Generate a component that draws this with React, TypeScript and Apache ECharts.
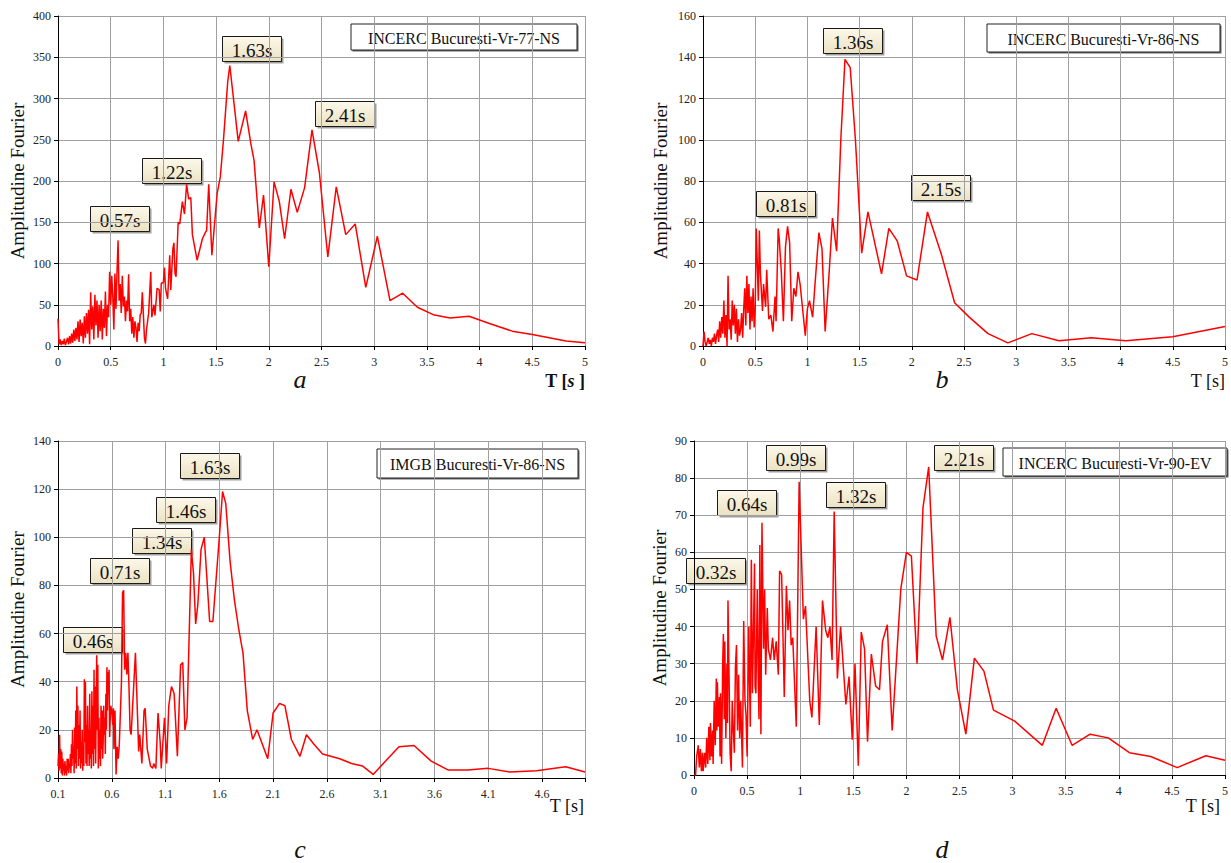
import React, { useEffect, useRef } from 'react';
import * as echarts from 'echarts';

// Fourier amplitude spectra, [period T (s), amplitude]
const spectrumA: [number, number][] = [
  [0.00, 33], [0.01, 2], [0.02, 8], [0.03, 1], [0.04, 6], [0.05, 2], [0.06, 9], [0.07, 1], [0.08, 5], [0.09, 10],
  [0.10, 2], [0.11, 12], [0.12, 3], [0.13, 15], [0.14, 4], [0.15, 20], [0.16, 6], [0.17, 22], [0.18, 8], [0.19, 30],
  [0.20, 5], [0.21, 32], [0.22, 12], [0.23, 28], [0.24, 3], [0.25, 36], [0.26, 10], [0.27, 40], [0.28, 15], [0.29, 44],
  [0.30, 2], [0.31, 65], [0.32, 20], [0.33, 48], [0.34, 8], [0.35, 62], [0.36, 25], [0.37, 55], [0.38, 10], [0.39, 50],
  [0.40, 18], [0.41, 55], [0.42, 8], [0.43, 45], [0.44, 22], [0.45, 66], [0.46, 12], [0.47, 50], [0.48, 35], [0.49, 90],
  [0.50, 50], [0.51, 85], [0.52, 60], [0.53, 20], [0.54, 88], [0.55, 45], [0.56, 90], [0.57, 128], [0.58, 55], [0.59, 75],
  [0.60, 40], [0.61, 85], [0.62, 48], [0.63, 60], [0.64, 30], [0.65, 55], [0.66, 42], [0.67, 87], [0.68, 30], [0.69, 45],
  [0.70, 15], [0.71, 35], [0.72, 10], [0.73, 30], [0.74, 22], [0.75, 5], [0.76, 28], [0.77, 18], [0.78, 38], [0.79, 40],
  [0.80, 65], [0.81, 38], [0.82, 10], [0.83, 3], [0.84, 20], [0.86, 40], [0.88, 90], [0.89, 35], [0.91, 50], [0.92, 37],
  [0.94, 70], [0.96, 68], [0.97, 42], [0.98, 76], [1.00, 77], [1.01, 95], [1.02, 70], [1.04, 57], [1.06, 110], [1.07, 68],
  [1.09, 118], [1.10, 125], [1.11, 88], [1.12, 84], [1.14, 150], [1.155, 148], [1.18, 175], [1.20, 160], [1.22, 196],
  [1.24, 178], [1.26, 180], [1.275, 135], [1.32, 104], [1.37, 130], [1.40, 138], [1.41, 140], [1.43, 196], [1.46, 110],
  [1.51, 185], [1.54, 205], [1.57, 250], [1.61, 320], [1.63, 340], [1.71, 248], [1.78, 285], [1.83, 245], [1.86, 225],
  [1.91, 143], [1.95, 183], [2.00, 96], [2.05, 199], [2.10, 175], [2.15, 130], [2.21, 190], [2.27, 162], [2.34, 192],
  [2.41, 262], [2.48, 210], [2.56, 108], [2.64, 193], [2.73, 135], [2.82, 148], [2.92, 71], [3.03, 133], [3.15, 55],
  [3.27, 64], [3.41, 47], [3.56, 38], [3.72, 34], [3.90, 36], [4.10, 27], [4.31, 18], [4.50, 14], [4.82, 6], [5.00, 4],
];

const spectrumB: [number, number][] = [
  [0.00, 0], [0.01, 7], [0.02, 2], [0.03, 0], [0.04, 2], [0.05, 4], [0.06, 1], [0.07, 3], [0.08, 0], [0.09, 4],
  [0.10, 2], [0.11, 6], [0.12, 1], [0.13, 5], [0.14, 8], [0.15, 2], [0.16, 12], [0.17, 4], [0.18, 14], [0.19, 6],
  [0.20, 22], [0.21, 4], [0.22, 15], [0.23, 0], [0.24, 34], [0.25, 8], [0.26, 13], [0.27, 3], [0.28, 22], [0.29, 10],
  [0.30, 20], [0.31, 6], [0.32, 18], [0.33, 2], [0.34, 13], [0.35, 5], [0.36, 8], [0.37, 16], [0.38, 4], [0.39, 18],
  [0.40, 28], [0.41, 10], [0.42, 34], [0.43, 16], [0.44, 30], [0.45, 8], [0.46, 24], [0.47, 12], [0.48, 28], [0.49, 9],
  [0.50, 18], [0.51, 57], [0.52, 40], [0.53, 22], [0.54, 56], [0.55, 35], [0.57, 17], [0.58, 30], [0.60, 19], [0.61, 37],
  [0.63, 13], [0.65, 15], [0.67, 7], [0.69, 24], [0.70, 12], [0.72, 57], [0.73, 52], [0.75, 36], [0.77, 12], [0.79, 48],
  [0.81, 58], [0.83, 50], [0.85, 12], [0.87, 28], [0.89, 24], [0.91, 36], [0.93, 30], [0.95, 20], [0.98, 5], [1.00, 18],
  [1.02, 22], [1.05, 14], [1.07, 28], [1.11, 55], [1.14, 47], [1.17, 7], [1.21, 37], [1.24, 62], [1.28, 46], [1.32, 100],
  [1.36, 139], [1.41, 135], [1.46, 100], [1.52, 45], [1.58, 65], [1.71, 35], [1.78, 57], [1.86, 51], [1.95, 34],
  [2.05, 32], [2.15, 65], [2.28, 45], [2.41, 21], [2.55, 14], [2.73, 6], [2.92, 1.5], [3.15, 6], [3.41, 2.5],
  [3.72, 4], [4.05, 2.5], [4.50, 4.5], [5.00, 9.5],
];

const spectrumC: [number, number][] = [
  [0.100, 5], [0.105, 10], [0.110, 3], [0.115, 18], [0.120, 4], [0.125, 12], [0.130, 2], [0.135, 11], [0.140, 1],
  [0.145, 8], [0.150, 3], [0.155, 6], [0.160, 1], [0.165, 7], [0.170, 2], [0.175, 5], [0.180, 1], [0.185, 8],
  [0.190, 3], [0.195, 8], [0.200, 2], [0.205, 6], [0.210, 4], [0.215, 10], [0.220, 2], [0.225, 14], [0.230, 5],
  [0.235, 20], [0.240, 8], [0.245, 13], [0.250, 2], [0.255, 21], [0.260, 6], [0.265, 28], [0.270, 4], [0.275, 38],
  [0.280, 12], [0.285, 30], [0.290, 5], [0.295, 22], [0.300, 8], [0.305, 28], [0.310, 4], [0.315, 15], [0.320, 6],
  [0.325, 20], [0.330, 3], [0.335, 12], [0.340, 5], [0.345, 41], [0.350, 15], [0.355, 40], [0.360, 6], [0.365, 22],
  [0.370, 5], [0.375, 30], [0.380, 10], [0.385, 20], [0.390, 5], [0.395, 35], [0.400, 8], [0.405, 20], [0.410, 4],
  [0.415, 36], [0.420, 10], [0.425, 30], [0.430, 5], [0.435, 45], [0.440, 12], [0.445, 38], [0.450, 6], [0.460, 51],
  [0.465, 20], [0.470, 47], [0.475, 4], [0.480, 25], [0.485, 8], [0.490, 20], [0.495, 5], [0.500, 30], [0.505, 12],
  [0.510, 28], [0.515, 8], [0.520, 15], [0.525, 30], [0.530, 18], [0.535, 25], [0.540, 10], [0.545, 35], [0.550, 20],
  [0.555, 46], [0.560, 28], [0.565, 44], [0.570, 35], [0.575, 45], [0.580, 17], [0.590, 30], [0.600, 28], [0.610, 22],
  [0.615, 29], [0.620, 12], [0.630, 28], [0.640, 1.5], [0.650, 13], [0.660, 8], [0.670, 14], [0.690, 40], [0.700, 77],
  [0.710, 78], [0.720, 45], [0.730, 52], [0.740, 43], [0.750, 52], [0.760, 38], [0.770, 20], [0.780, 18], [0.800, 35],
  [0.820, 52], [0.840, 25], [0.850, 11], [0.860, 18], [0.880, 6], [0.900, 28], [0.910, 29], [0.930, 12], [0.960, 5],
  [0.980, 4], [0.990, 6], [1.010, 4], [1.030, 27], [1.050, 15], [1.060, 4], [1.090, 25], [1.110, 6], [1.130, 30],
  [1.155, 38], [1.180, 35], [1.210, 9], [1.240, 47], [1.260, 48], [1.280, 20], [1.300, 25], [1.340, 95], [1.360, 85],
  [1.380, 64], [1.400, 72], [1.430, 95], [1.460, 100], [1.510, 65], [1.540, 65], [1.600, 100], [1.630, 119],
  [1.660, 114], [1.700, 90], [1.740, 74], [1.780, 62], [1.820, 52], [1.860, 28], [1.910, 16], [1.950, 20], [2.050, 8],
  [2.100, 27], [2.160, 31], [2.210, 30], [2.270, 16], [2.350, 9], [2.410, 18], [2.480, 14], [2.560, 10], [2.720, 8],
  [2.830, 6], [2.930, 5], [3.030, 1.5], [3.270, 13], [3.410, 13.5], [3.570, 7], [3.730, 3.3], [3.910, 3.3],
  [4.100, 4], [4.300, 2.5], [4.550, 3], [4.820, 4.7], [5.000, 2.5],
];

const spectrumD: [number, number][] = [
  [0.000, 0], [0.015, 0], [0.025, 5], [0.040, 8], [0.050, 2], [0.060, 7], [0.070, 1], [0.080, 6], [0.086, 1],
  [0.100, 6], [0.110, 2], [0.120, 10], [0.130, 3], [0.140, 13], [0.150, 4], [0.155, 14], [0.166, 5], [0.175, 12],
  [0.180, 3], [0.190, 20], [0.200, 8], [0.210, 26], [0.215, 12], [0.220, 25], [0.230, 13], [0.240, 21], [0.245, 5],
  [0.250, 22], [0.260, 3], [0.270, 30], [0.277, 38], [0.285, 15], [0.290, 36], [0.300, 10], [0.310, 30], [0.315, 14],
  [0.320, 47], [0.335, 16], [0.340, 6], [0.350, 1], [0.360, 20], [0.370, 12], [0.380, 6], [0.390, 29], [0.400, 35],
  [0.410, 12], [0.420, 27], [0.430, 10], [0.440, 20], [0.456, 2], [0.468, 41.5], [0.480, 20], [0.490, 16], [0.500, 5],
  [0.516, 40], [0.530, 13], [0.540, 58], [0.550, 22], [0.558, 35], [0.570, 57], [0.575, 24], [0.583, 22], [0.596, 50],
  [0.605, 26], [0.612, 15], [0.620, 62], [0.630, 11], [0.640, 68], [0.655, 34], [0.665, 50], [0.675, 27], [0.690, 45],
  [0.700, 34], [0.720, 31], [0.740, 37], [0.755, 31], [0.774, 36], [0.794, 27], [0.806, 55], [0.825, 54], [0.850, 21],
  [0.870, 51], [0.885, 39], [0.900, 47], [0.915, 35], [0.930, 37], [0.963, 13], [0.990, 79], [1.030, 42], [1.050, 45.5],
  [1.090, 20], [1.110, 15.5], [1.150, 40], [1.180, 13.5], [1.210, 47], [1.240, 39], [1.260, 37], [1.280, 40],
  [1.300, 31], [1.320, 71], [1.350, 26], [1.380, 40], [1.430, 19], [1.460, 26.5], [1.490, 9.5], [1.516, 30],
  [1.547, 2.5], [1.575, 38.5], [1.606, 34], [1.634, 9], [1.670, 32.6], [1.710, 24], [1.747, 23], [1.775, 36],
  [1.820, 40.5], [1.866, 12], [1.947, 50], [2.000, 60], [2.047, 59], [2.100, 30], [2.156, 72], [2.210, 83],
  [2.280, 37.5], [2.340, 31], [2.410, 42.5], [2.480, 23], [2.560, 11], [2.640, 31.5], [2.730, 28], [2.820, 17.5],
  [2.920, 16], [3.020, 14.5], [3.280, 8], [3.410, 18], [3.560, 8], [3.730, 11], [3.900, 10], [4.100, 6], [4.300, 5],
  [4.550, 2], [4.820, 5.2], [5.000, 4],
];

// Dominant periods (s) marked on each spectrum
const peaksA = [0.57, 1.22, 1.63, 2.41];
const peaksB = [0.81, 1.36, 2.15];
const peaksC = [0.46, 0.71, 1.34, 1.46, 1.63];
const peaksD = [0.32, 0.64, 0.99, 1.32, 2.21];

const stations = [
  'INCERC Bucuresti-Vr-77-NS',
  'INCERC Bucuresti-Vr-86-NS',
  'IMGB Bucuresti-Vr-86-NS',
  'INCERC Bucuresti-Vr-90-EV',
];
const panelLetters = ['a', 'b', 'c', 'd'];
const yAxisTitle = 'Amplitudine Fourier';

const FONT = 'Liberation Serif, serif';

const layouts = [
  {
    data: spectrumA, peaks: peaksA, xMin: 0, xMax: 5, yMax: 400, yStep: 50,
    grid: { left: 58, top: 16, width: 527, height: 330 }, nameGap: 31,
    boxes: [[120, 219], [172, 171], [252, 49], [345, 114]],
    title: [351, 24, 226, 26], tLabel: [585, 381], letter: [300, 379], boldT: true,
  },
  {
    data: spectrumB, peaks: peaksB, xMin: 0, xMax: 5, yMax: 160, yStep: 20,
    grid: { left: 703, top: 16, width: 522, height: 330 }, nameGap: 33,
    boxes: [[786, 204], [853, 41], [941, 188]],
    title: [987, 24, 233, 28], tLabel: [1225, 381], letter: [942, 379], boldT: false,
  },
  {
    data: spectrumC, peaks: peaksC, xMin: 0.1, xMax: 5.0, yMax: 140, yStep: 20,
    grid: { left: 58, top: 441, width: 527, height: 337 }, nameGap: 31,
    boxes: [[93, 640], [120, 571], [162, 541], [186, 510], [210, 466]],
    title: [377, 449, 201, 29], tLabel: [584, 806], letter: [300, 849], boldT: false,
  },
  {
    data: spectrumD, peaks: peaksD, xMin: 0, xMax: 5, yMax: 90, yStep: 10,
    grid: { left: 694, top: 441, width: 532, height: 334 }, nameGap: 25,
    boxes: [[716, 571], [747, 503], [796, 458], [856, 495], [964, 458]],
    title: [1003, 448, 224, 28], tLabel: [1220, 806], letter: [942, 849], boldT: false,
  },
];

const fmtT = (v: number) => String(Math.round(v * 10) / 10);

function peakBox(cx: number, cy: number, text: string) {
  const w = 59;
  const h = 25;
  return {
    type: 'group',
    children: [
      {
        type: 'rect',
        shape: { x: cx - w / 2 + 2, y: cy - h / 2 + 2, width: w, height: h },
        style: { fill: 'rgba(80,80,80,0.55)' },
      },
      {
        type: 'rect',
        shape: { x: cx - w / 2, y: cy - h / 2, width: w, height: h },
        style: {
          fill: new echarts.graphic.LinearGradient(0, 0, 0, 1, [
            { offset: 0, color: '#fcf8ea' },
            { offset: 1, color: '#ece2c3' },
          ]),
          stroke: '#1a1a1a',
          lineWidth: 1,
        },
      },
      {
        type: 'text',
        x: cx,
        y: cy + 1,
        style: {
          text,
          fontFamily: FONT,
          fontSize: 19,
          fill: '#111',
          align: 'center',
          verticalAlign: 'middle',
        },
      },
    ],
  };
}

function titleBox(x: number, y: number, w: number, h: number, text: string) {
  return {
    type: 'group',
    children: [
      {
        type: 'rect',
        shape: { x: x + 1.5, y: y + 1.5, width: w, height: h },
        style: { fill: '#666' },
      },
      {
        type: 'rect',
        shape: { x, y, width: w, height: h },
        style: { fill: '#fff', stroke: '#222', lineWidth: 1 },
      },
      {
        type: 'text',
        x: x + w / 2,
        y: y + h / 2 + 1,
        style: {
          text,
          fontFamily: FONT,
          fontSize: 16,
          fill: '#111',
          align: 'center',
          verticalAlign: 'middle',
        },
      },
    ],
  };
}

export default function App() {
  const ref = useRef<HTMLDivElement>(null);

  useEffect(() => {
    if (!ref.current) return;
    const chart = echarts.init(ref.current, null, { renderer: 'svg' });

    const grids = layouts.map((l) => ({ ...l.grid, containLabel: false }));
    const xAxes = layouts.map((l, i) => ({
      type: 'value',
      gridIndex: i,
      min: l.xMin,
      max: l.xMax,
      interval: 0.5,
      axisLine: { show: true, onZero: false, lineStyle: { color: '#000', width: 1 } },
      axisTick: { show: true, length: 4, lineStyle: { color: '#000' } },
      axisLabel: {
        color: '#222',
        fontFamily: FONT,
        fontSize: 12,
        margin: 10,
        formatter: (v: number) => (l.xMin > 0 && v > 4.95 ? '' : fmtT(v)),
      },
      splitLine: { show: true, lineStyle: { color: '#a0a0a0', width: 1 } },
    }));
    const yAxes = layouts.map((l, i) => ({
      type: 'value',
      gridIndex: i,
      min: 0,
      max: l.yMax,
      interval: l.yStep,
      name: yAxisTitle,
      nameLocation: 'middle',
      nameGap: l.nameGap,
      nameTextStyle: { fontFamily: FONT, fontSize: 19, color: '#111' },
      axisLine: { show: true, lineStyle: { color: '#000', width: 1 } },
      axisTick: { show: true, length: 4, lineStyle: { color: '#000' } },
      axisLabel: { color: '#222', fontFamily: FONT, fontSize: 12, margin: 7 },
      splitLine: { show: true, lineStyle: { color: '#a0a0a0', width: 1 } },
    }));
    const series = layouts.map((l, i) => ({
      type: 'line',
      xAxisIndex: i,
      yAxisIndex: i,
      data: l.data,
      showSymbol: false,
      symbol: 'none',
      lineStyle: { color: '#ff0000', width: 1.5 },
      z: 3,
    }));

    const graphics: any[] = [];
    layouts.forEach((l, i) => {
      l.peaks.forEach((p, k) => {
        const [cx, cy] = l.boxes[k];
        graphics.push(peakBox(cx, cy, `${p.toFixed(2)}s`));
      });
      const [tx, ty, tw, th] = l.title;
      graphics.push(titleBox(tx, ty, tw, th, stations[i]));
      graphics.push({
        type: 'text',
        x: l.tLabel[0],
        y: l.tLabel[1],
        style: l.boldT
          ? {
              text: '{b|T [}{bi|s}{b| ]}',
              align: 'right',
              verticalAlign: 'middle',
              rich: {
                b: { fontFamily: FONT, fontSize: 18, fontWeight: 'bold', fill: '#111' },
                bi: { fontFamily: FONT, fontSize: 18, fontWeight: 'bold', fontStyle: 'italic', fill: '#111' },
              },
            }
          : {
              text: 'T [s]',
              fontFamily: FONT,
              fontSize: 18,
              fill: '#111',
              align: 'right',
              verticalAlign: 'middle',
            },
      });
      graphics.push({
        type: 'text',
        x: l.letter[0],
        y: l.letter[1],
        style: {
          text: panelLetters[i],
          fontFamily: FONT,
          fontSize: 26,
          fontStyle: 'italic',
          fill: '#111',
          align: 'center',
          verticalAlign: 'middle',
        },
      });
    });

    chart.setOption({
      animation: false,
      backgroundColor: '#ffffff',
      grid: grids,
      xAxis: xAxes,
      yAxis: yAxes,
      series,
      graphic: graphics,
    });

    return () => chart.dispose();
  }, []);

  return (
    <div
      ref={ref}
      style={{ position: 'absolute', left: 0, top: 0, width: 1231, height: 863, background: '#fff' }}
    />
  );
}
